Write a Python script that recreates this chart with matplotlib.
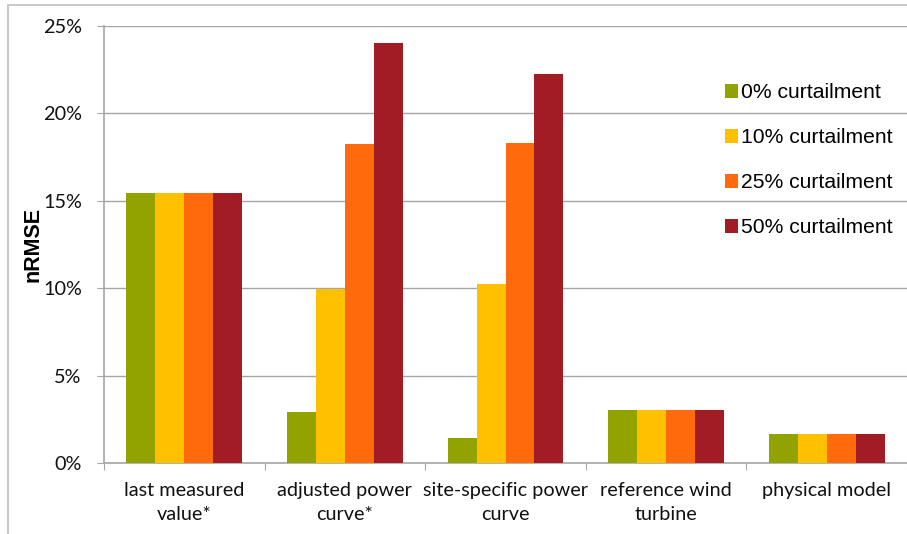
import numpy as np
import matplotlib.pyplot as plt
from matplotlib.patches import Rectangle
from matplotlib.ticker import FuncFormatter, FixedLocator

categories = ["last measured\nvalue*", "adjusted power\ncurve*", "site-specific power\ncurve",
              "reference wind\nturbine", "physical model"]
series_names = ["0% curtailment", "10% curtailment", "25% curtailment", "50% curtailment"]
curtail_0 = [15.45, 2.9, 1.41, 3.03, 1.68]
curtail_10 = [15.45, 9.94, 10.24, 3.03, 1.68]
curtail_25 = [15.45, 18.23, 18.3, 3.03, 1.68]
curtail_50 = [15.45, 24.03, 22.25, 3.03, 1.68]
yticks = [0, 5, 10, 15, 20, 25]

series = [curtail_0, curtail_10, curtail_25, curtail_50]
colors = ["#92A300", "#FFC000", "#FF6A0D", "#A11C24"]

fig = plt.figure(figsize=(9.07, 5.34), dpi=100)
ax = fig.add_axes([104 / 907, 1 - 463 / 534, 1 - 104 / 907, (463 - 26) / 534])

# outer frame of the chart
fig.patches.append(Rectangle((8 / 907, -0.05), 1.1, 1 - 5 / 534 + 0.05, transform=fig.transFigure,
                             fill=False, edgecolor="#BFBFBF", linewidth=1.2))

n = len(categories)
x = np.arange(n)
group_w = 0.72
bw = group_w / len(series)
for i, (vals, c, name) in enumerate(zip(series, colors, series_names)):
    ax.bar(x - group_w / 2 + bw * (i + 0.5), vals, width=bw, color=c, label=name,
           zorder=3, linewidth=0)

ax.set_xlim(-0.5, n - 0.5)
ax.set_ylim(0, 25)
ax.yaxis.set_major_locator(FixedLocator(yticks))
ax.yaxis.set_major_formatter(FuncFormatter(lambda v, p: f"{v:.0f}%"))
ax.grid(axis="y", color="#A6A6A6", linewidth=1.0, zorder=0)

tick_family = ["Lato", "DejaVu Sans"]
for lab in ax.get_yticklabels():
    lab.set_fontfamily(tick_family)
    lab.set_fontsize(14.3)
ax.tick_params(axis="y", length=5, color="#A6A6A6", pad=11, labelcolor="#111111")

ax.set_xticks(np.arange(n + 1) - 0.5)
ax.set_xticklabels([])
ax.tick_params(axis="x", which="major", length=5, color="#A6A6A6")
ax.set_xticks(x, minor=True)
ax.set_xticklabels(categories, minor=True, fontfamily=tick_family, fontsize=14.3,
                   color="#111111", linespacing=1.5)
ax.tick_params(axis="x", which="minor", length=0, pad=14)

for s in ["top", "right"]:
    ax.spines[s].set_visible(False)
for s in ["left", "bottom"]:
    ax.spines[s].set_color("#A6A6A6")
    ax.spines[s].set_linewidth(1.2)

ax.set_ylabel("nRMSE", fontsize=15.5, fontweight="bold", fontfamily=["Liberation Sans", "DejaVu Sans"])
ax.yaxis.set_label_coords(-61 / 803, 0.5)

leg = ax.legend(loc="upper left", bbox_to_anchor=(0.763, 0.888), frameon=False,
                prop={"family": ["Liberation Sans", "DejaVu Sans"], "size": 15.2},
                handlelength=0.6, handleheight=0.6, handletextpad=0.15, labelspacing=1.23,
                borderaxespad=0)

fig.savefig("out.png", dpi=100)
